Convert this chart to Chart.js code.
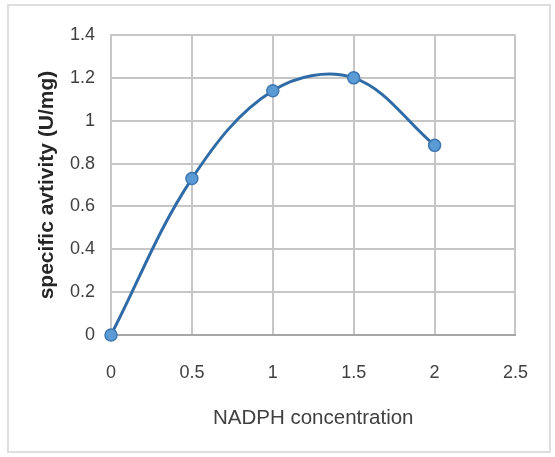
<!DOCTYPE html>
<html>
<head>
<meta charset="utf-8">
<script src="https://cdn.jsdelivr.net/npm/chart.js@4"></script>
<style>
    html, body { margin: 0; padding: 0; background: #fff; }
    .wrap { position: relative; width: 555px; height: 457px; }
    .frame { position: absolute; left: 7px; top: 4px; width: 544px; height: 449px; border: 2px solid #dedede; box-sizing: border-box; }
    canvas { position: absolute; left: 0; top: 0; }
</style>
</head>
<body>
<div class="wrap">
    <div class="frame"></div>
    <canvas id="chart" width="555" height="457"></canvas>
</div>
<script>
const concentrations = [0, 0.5, 1, 1.5, 2];
const activity = [0, 0.73, 1.14, 1.2, 0.885];
const xTicks = [0, 0.5, 1, 1.5, 2, 2.5];
const yTicks = [0, 0.2, 0.4, 0.6, 0.8, 1, 1.2, 1.4];
const xTitle = 'NADPH concentration';
const yTitle = 'specific avtivity (U/mg)';

const FONT = '"Liberation Sans", Arial, sans-serif';
const GRID = '#c6c6c6';

new Chart(document.getElementById('chart'), {
    type: 'line',
    data: {
        datasets: [{
            data: concentrations.map((x, i) => ({ x, y: activity[i] })),
            borderColor: '#2f6ba6',
            borderWidth: 3,
            backgroundColor: '#5b9bd5',
            pointBackgroundColor: '#5b9bd5',
            pointBorderColor: '#3f77b0',
            pointBorderWidth: 1.5,
            pointRadius: 6,
            tension: 0.36,
            clip: false,
        }],
    },
    options: {
        responsive: false,
        animation: false,
        layout: { padding: { left: 0, right: 33, top: 35, bottom: 0 } },
        plugins: { legend: { display: false }, tooltip: { enabled: false } },
        scales: {
            x: {
                type: 'linear',
                min: 0,
                max: 2.5,
                afterBuildTicks: (scale) => { scale.ticks = xTicks.map((value) => ({ value })); },
                afterFit: (scale) => { scale.height = 122; },
                grid: { color: GRID, lineWidth: 2, drawTicks: false },
                border: { color: '#a6a6a6', width: 2 },
                ticks: {
                    padding: 27,
                    color: '#404040',
                    font: { family: FONT, size: 18 },
                    callback: (v) => String(+v.toFixed(1)),
                },
                title: {
                    display: true,
                    text: xTitle,
                    color: '#404040',
                    font: { family: FONT, size: 20.5 },
                    padding: { top: 0, bottom: 26 },
                },
            },
            y: {
                min: 0,
                max: 1.4,
                afterBuildTicks: (scale) => { scale.ticks = yTicks.map((value) => ({ value })); },
                afterFit: (scale) => { scale.width = 111; },
                grid: { color: GRID, lineWidth: 2, drawTicks: false },
                border: { color: GRID, width: 2 },
                ticks: {
                    padding: 16,
                    color: '#404040',
                    font: { family: FONT, size: 18 },
                    callback: (v) => String(+v.toFixed(1)),
                },
                title: {
                    display: true,
                    text: yTitle,
                    color: '#262626',
                    font: { family: FONT, size: 21, weight: 'bold' },
                    padding: { top: 35, bottom: 0 },
                },
            },
        },
    },
});
</script>
</body>
</html>
